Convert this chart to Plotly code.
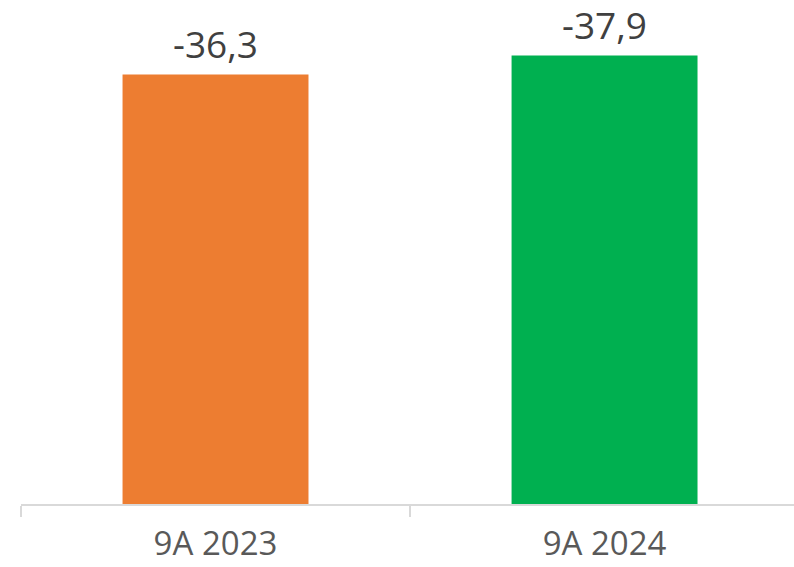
import plotly.graph_objects as go

categories = ["9A 2023", "9A 2024"]
values = [-36.3, -37.9]
colors = ["#ED7D31", "#00B050"]

heights = [abs(v) for v in values]
labels = [f"{v:.1f}".replace(".", ",") for v in values]

fig = go.Figure()
fig.add_trace(go.Bar(
    x=categories, y=heights, marker=dict(color=colors, line=dict(width=0)),
    width=0.478, hoverinfo="skip", showlegend=False,
))
for c, h, t in zip(categories, heights, labels):
    fig.add_annotation(x=c, y=h, text=t, showarrow=False, yanchor="middle",
                       yshift=32, height=44, valign="middle",
                       font=dict(family="Open Sans", size=37, color="#404040"))

fig.update_layout(
    template="none",
    width=794, height=567, margin=dict(l=21, r=0, t=0, b=63, autoexpand=False),
    plot_bgcolor="white", paper_bgcolor="white",
    xaxis=dict(type="category", range=[-0.5, 1.487], showline=True, linecolor="#D9D9D9",
               linewidth=2, ticks="outside", ticklen=11, tickcolor="#D9D9D9", tickwidth=2,
               tickson="boundaries", showgrid=False, zeroline=False, automargin=False,
               ticklabelstandoff=9,
               tickfont=dict(family="Open Sans", size=33, color="#595959")),
    yaxis=dict(range=[0, 42.6], visible=False, showgrid=False, zeroline=False, automargin=False),
)
fig.write_html("out.html", config={"displayModeBar": False},
               post_script="document.body.style.margin='0';document.body.style.overflow='hidden';")
